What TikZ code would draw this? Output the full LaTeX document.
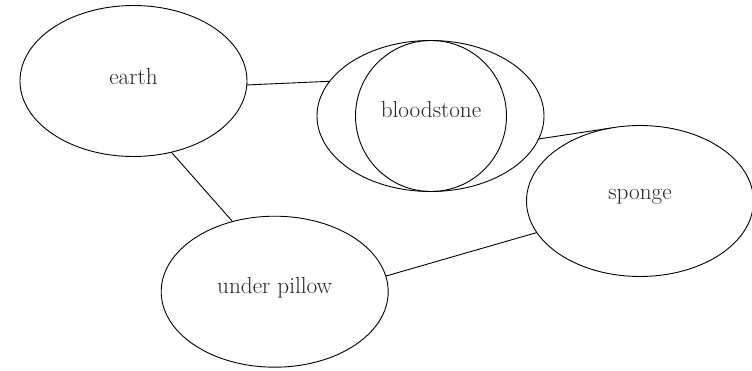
\documentclass[tikz,border=0pt]{standalone}
\usetikzlibrary{shapes.geometric}
\begin{document}
\begin{tikzpicture}[x=1pt,y=-1pt,
  blob/.style={draw, ellipse, line width=0.9pt, inner sep=0pt, outer sep=0pt,
    minimum width=227pt, minimum height=151pt},
  ring/.style={draw, circle, line width=0.9pt, inner sep=0pt, outer sep=0pt,
    minimum size=151pt},
  word/.style={font=\fontsize{23.2}{28}\selectfont, text=black!85},
  link/.style={draw, line width=0.9pt}]
  \useasboundingbox (0,0) rectangle (752,371);

  % the four terms
  \node[blob, label={[word, yshift=4pt]center:earth}] (earth) at (133.5,81) {};
  \node[blob] (blood) at (430.5,116) {};
  \node[ring, label={[word, yshift=6pt]center:bloodstone}] (bloodin) at (431,116) {};
  \node[blob, label={[word, yshift=4pt]center:sponge}] (sponge) at (640,201) {};
  \node[blob, label={[word, yshift=4pt]center:under pillow}] (pillow) at (274.7,291.7) {};

  % links between them
  \draw[link] (earth.-2) -- (blood.161);
  \draw[link] (earth.-62.4) -- (pillow.121.3);
  \draw[link] (blood.-12.8) -- (sponge.112.3);
  \draw[link] (sponge.197.3) -- (pillow.8);
\end{tikzpicture}
\end{document}
